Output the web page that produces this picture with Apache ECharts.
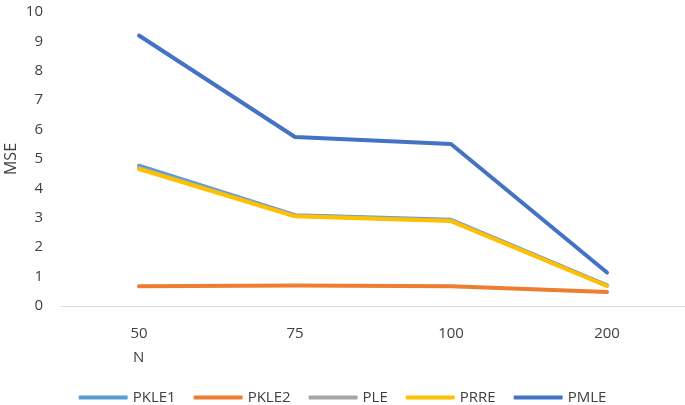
<!DOCTYPE html>
<html>
<head>
    <meta charset="utf-8">
    <script src="https://cdn.jsdelivr.net/npm/echarts@6/dist/echarts.min.js"></script>
    <style>
        html, body { margin: 0; padding: 0; background: #fff; }
        #main { width: 685px; height: 405px; }
    </style>
</head>
<body>
<div id="main"></div>
<script>
    var categories = ['50', '75', '100', '200'];
    var seriesNames = ['PKLE1', 'PKLE2', 'PLE', 'PRRE', 'PMLE'];
    var pkle1 = [4.77, 3.09, 2.93, 0.70];
    var pkle2 = [0.67, 0.70, 0.67, 0.48];
    var ple = [4.70, 3.07, 2.91, 0.69];
    var prre = [4.66, 3.05, 2.89, 0.68];
    var pmle = [9.20, 5.75, 5.51, 1.14];
    var colors = ['#5B9BD5', '#ED7D31', '#A5A5A5', '#FFC000', '#4472C4'];

    var seriesData = [pkle1, pkle2, ple, prre, pmle];
    var font = '"Open Sans", sans-serif';
    var txt = '#404040';

    var chart = echarts.init(document.getElementById('main'));
    var option = {
        animation: false,
        color: colors,
        grid: { left: 61, right: 0, top: 12, bottom: 99, outerBoundsMode: 'none', containLabel: false },
        legend: {
            top: 385,
            left: 'center',
            icon: 'roundRect',
            itemWidth: 49,
            itemHeight: 4,
            itemGap: 18,
            textStyle: { color: txt, fontSize: 15, fontFamily: font },
            data: seriesNames
        },
        xAxis: {
            type: 'category',
            data: categories,
            boundaryGap: true,
            axisLine: { lineStyle: { color: '#d9d9d9', width: 1 } },
            axisTick: { show: false },
            axisLabel: { color: txt, fontSize: 15, fontFamily: font, margin: 20 }
        },
        yAxis: {
            type: 'value',
            min: 0,
            max: 10,
            interval: 1,
            name: 'MSE',
            nameLocation: 'middle',
            nameRotate: 90,
            nameGap: 42,
            nameMoveOverlap: false,
            nameTextStyle: { color: txt, fontSize: 16, fontFamily: font },
            splitLine: { show: false },
            axisLine: { show: false },
            axisTick: { show: false },
            axisLabel: { color: txt, fontSize: 15, fontFamily: font, margin: 18 }
        },
        graphic: [{
            type: 'text',
            left: 133,
            top: 350,
            style: { text: 'N', fill: txt, fontSize: 15, fontFamily: font }
        }],
        series: seriesNames.map(function (name, i) {
            return {
                name: name,
                type: 'line',
                data: seriesData[i],
                symbol: 'none',
                lineStyle: { width: 4, color: colors[i], cap: 'round', join: 'round' },
                itemStyle: { color: colors[i] }
            };
        })
    };
    chart.setOption(option);
</script>
</body>
</html>
